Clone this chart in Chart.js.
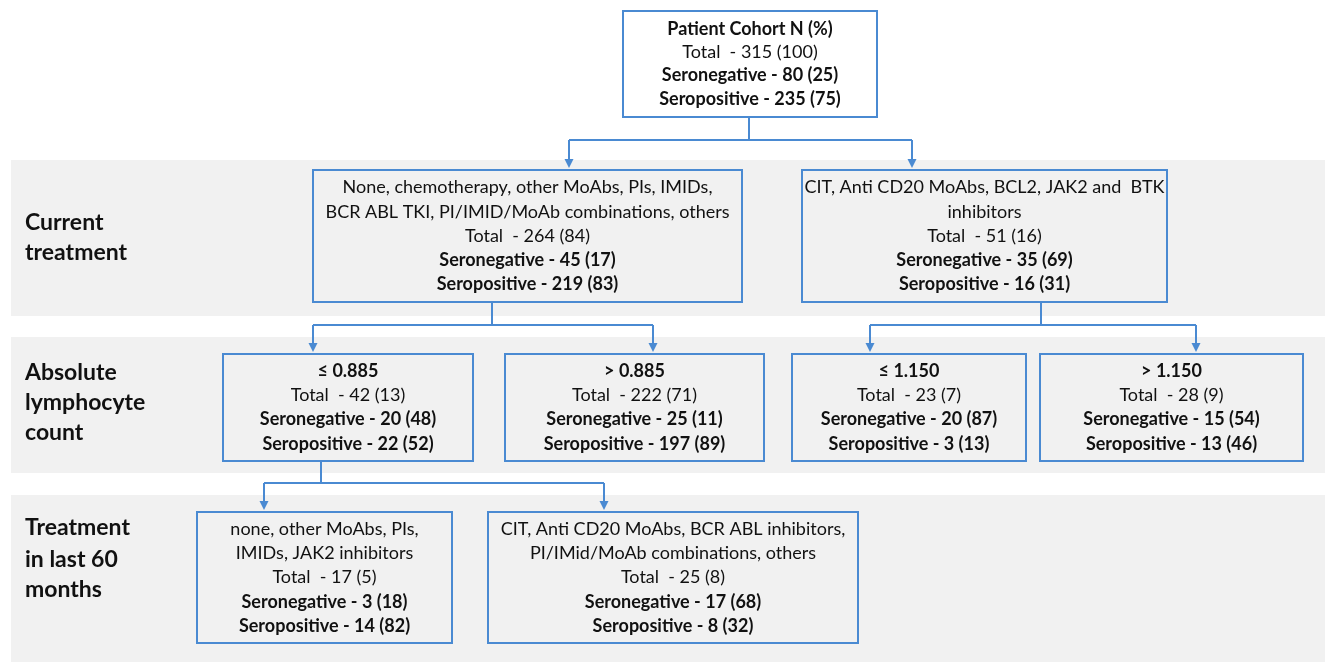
<!DOCTYPE html>
<html>
<head>
<meta charset="utf-8">
<script src="https://cdn.jsdelivr.net/npm/chart.js@4"></script>
<style>
  html, body { margin: 0; padding: 0; background: #fff; }
  canvas { display: block; }
</style>
</head>
<body>
<canvas id="flow" width="1325" height="662"></canvas>
<script>
// Cohort values, one entry per box (top box first, then left to right, row by row)
const headings = [
  ['Patient Cohort N (%)'],
  ['None, chemotherapy, other MoAbs, PIs, IMIDs,', 'BCR ABL TKI, PI/IMID/MoAb combinations, others'],
  ['CIT, Anti CD20 MoAbs, BCL2, JAK2 and  BTK', 'inhibitors'],
  ['\u2264 0.885'],
  ['> 0.885'],
  ['\u2264 1.150'],
  ['> 1.150'],
  ['none, other MoAbs, PIs,', 'IMIDs, JAK2 inhibitors'],
  ['CIT, Anti CD20 MoAbs, BCR ABL inhibitors,', 'PI/IMid/MoAb combinations, others']
];
const headingBold = [true, false, false, true, true, true, true, false, false];
const totals      = [315, 264, 51, 42, 222, 23, 28, 17, 25];
const totalPct    = [100, 84, 16, 13, 71, 7, 9, 5, 8];
const seroneg     = [80, 45, 35, 20, 25, 20, 15, 3, 17];
const seronegPct  = [25, 17, 69, 48, 11, 87, 54, 18, 68];
const seropos     = [235, 219, 16, 22, 197, 3, 13, 14, 8];
const seroposPct  = [75, 83, 31, 52, 89, 13, 46, 82, 32];
const rowLabels   = [['Current', 'treatment'], ['Absolute', 'lymphocyte', 'count'], ['Treatment', 'in last 60', 'months']];

// layout (canvas units): boxes [x0, y0, x1, y1], bands, connectors
const boxes = [
  [623, 11, 877, 117],
  [313, 170, 742, 302], [802, 170, 1167, 302],
  [223, 354, 473, 461], [505, 354, 764, 461], [792, 354, 1026, 461], [1040, 354, 1303, 461],
  [197, 512, 452, 643], [488, 512, 858, 643]
];
const bands = [[11, 160, 1325, 316], [11, 337, 1325, 473], [11, 495, 1325, 662]];
const labelY = [[223, 253], [373, 403, 433], [528, 560, 590]];
// parent stem x, stem top, bar y, children arrow xs, arrow tip y
const links = [
  [749, 117, 140, [569, 912], 168],
  [492, 302, 325, [313, 653], 352],
  [1041, 302, 325, [870, 1196], 352],
  [321, 461, 483, [264, 604], 510]
];

const BLUE = '#4a8ad2';
const FONT = 'Lato, "Open Sans", sans-serif';

const flowPlugin = {
  id: 'flow',
  afterDatasetsDraw(chart) {
    const ctx = chart.ctx;
    const xs = chart.scales.x, ys = chart.scales.y;
    const X = v => xs.getPixelForValue(v);
    const Y = v => ys.getPixelForValue(v);
    ctx.save();

    // grey bands
    ctx.fillStyle = '#f1f1f1';
    bands.forEach(b => ctx.fillRect(X(b[0]), Y(b[1]), X(b[2]) - X(b[0]), Y(b[3]) - Y(b[1])));

    // row labels
    ctx.fillStyle = '#111';
    ctx.font = 'bold 23px ' + FONT;
    ctx.textAlign = 'left';
    ctx.textBaseline = 'middle';
    rowLabels.forEach((lines, i) => {
      lines.forEach((t, j) => ctx.fillText(t, X(25), Y(labelY[i][j])));
    });

    // connectors
    ctx.strokeStyle = BLUE;
    ctx.fillStyle = BLUE;
    ctx.lineWidth = 2;
    links.forEach(l => {
      const [px, top, bar, kids, tip] = l;
      ctx.beginPath();
      ctx.moveTo(X(px), Y(top));
      ctx.lineTo(X(px), Y(bar));
      ctx.moveTo(X(kids[0]), Y(bar));
      ctx.lineTo(X(kids[1]), Y(bar));
      kids.forEach(k => {
        ctx.moveTo(X(k), Y(bar));
        ctx.lineTo(X(k), Y(tip) - 7);
      });
      ctx.stroke();
      kids.forEach(k => {
        ctx.beginPath();
        ctx.moveTo(X(k) - 4.5, Y(tip) - 9);
        ctx.lineTo(X(k) + 4.5, Y(tip) - 9);
        ctx.lineTo(X(k), Y(tip));
        ctx.closePath();
        ctx.fill();
      });
    });

    // boxes with text
    boxes.forEach((b, i) => {
      const x0 = X(b[0]), y0 = Y(b[1]), x1 = X(b[2]), y1 = Y(b[3]);
      ctx.fillStyle = i === 0 ? '#ffffff' : '#f1f1f1';
      ctx.fillRect(x0, y0, x1 - x0, y1 - y0);
      ctx.strokeStyle = BLUE;
      ctx.lineWidth = 2;
      ctx.strokeRect(x0, y0, x1 - x0, y1 - y0);

      const lines = [];
      headings[i].forEach(t => lines.push([t, headingBold[i]]));
      lines.push(['Total  - ' + totals[i] + ' (' + totalPct[i] + ')', false]);
      lines.push(['Seronegative - ' + seroneg[i] + ' (' + seronegPct[i] + ')', true]);
      lines.push(['Seropositive - ' + seropos[i] + ' (' + seroposPct[i] + ')', true]);

      const lh = i === 0 ? 23.3 : 24.2;
      const cx = (x0 + x1) / 2;
      const cy = (y0 + y1) / 2;
      const start = cy - lh * (lines.length - 1) / 2;
      ctx.fillStyle = '#111';
      ctx.textAlign = 'center';
      ctx.textBaseline = 'middle';
      lines.forEach((ln, j) => {
        ctx.font = (ln[1] ? 'bold ' : '') + '18px ' + FONT;
        ctx.fillText(ln[0], cx, start + j * lh);
      });
    });
    ctx.restore();
  }
};

new Chart(document.getElementById('flow'), {
  type: 'scatter',
  data: { datasets: [{ data: [], pointRadius: 0 }] },
  options: {
    responsive: false,
    animation: false,
    devicePixelRatio: 1,
    layout: { padding: 0 },
    plugins: { legend: { display: false }, tooltip: { enabled: false } },
    scales: {
      x: { type: 'linear', min: 0, max: 1325, display: false },
      y: { type: 'linear', min: 0, max: 662, reverse: true, display: false }
    }
  },
  plugins: [flowPlugin]
});
</script>
</body>
</html>
